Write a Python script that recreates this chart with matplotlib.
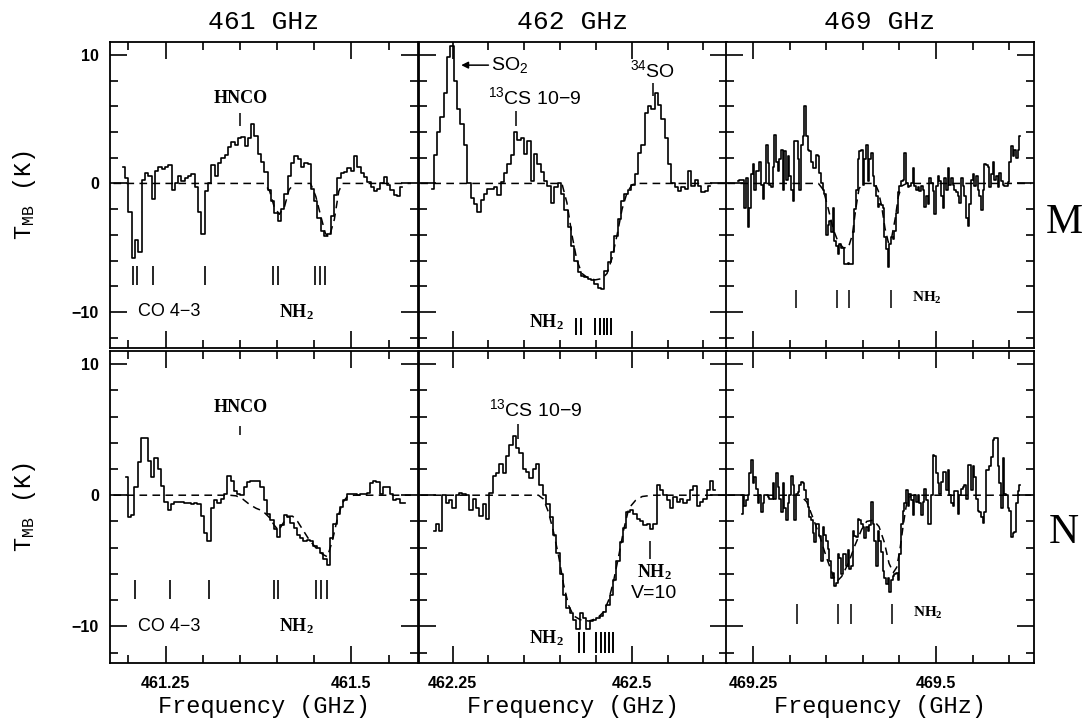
import numpy as np
import matplotlib
matplotlib.use('Agg')
import matplotlib.pyplot as plt
from matplotlib.ticker import MultipleLocator, FuncFormatter

matplotlib.rc('mathtext', default='regular')

# spectra: first channel frequency (GHz), channel width (GHz), T_MB values (K)
m461_f0, m461_df = 461.1934, 0.00446
m461_t = [1.3, 0.4, -2.2, -5.8, -4.4, -5.3, 0.3, 0.8, 0.6, -1.2,
          1.0, 1.3, 1.1, 1.3, 1.4, -0.5, 0.0, 0.6, 0.2, 0.4,
          0.6, 0.7, -0.3, -2.2, -3.9, -0.6, 0.0, 1.4, 0.6, 1.6,
          2.0, 2.2, 2.8, 3.2, 3.0, 3.5, 3.6, 2.9, 3.5, 4.6,
          3.7, 2.3, 1.7, 0.9, -0.5, -1.4, -2.3, -2.9, -2.0, -0.8,
          0.6, 1.6, 2.1, 1.9, 1.3, 1.6, 1.5, -0.4, -1.4, -2.7,
          -3.7, -4.1, -3.9, -2.5, -0.9, 0.4, 0.8, 0.9, 1.2, 1.0,
          2.1, 1.3, 0.8, 0.5, 0.1, -0.3, -0.6, -0.4, 0.0, 0.5,
          -0.1, -0.5, -0.9, -1.0, -0.3]

n461_f0, n461_df = 461.1969, 0.00446
n461_t = [1.4, -1.7, -1.5, 0.6, 2.5, 4.4, 4.4, 2.6, 1.4, 2.8,
          2.0, 0.7, -0.5, -1.1, -0.7, -0.5, -0.5, -0.5, -0.6, -0.6,
          -0.7, -0.6, -0.7, -1.6, -2.9, -3.5, -1.0, -0.4, -0.6, -0.3,
          0.1, 1.5, 1.1, 0.3, 0.1, 0.0, 0.6, 1.0, 1.1, 1.1,
          1.1, 0.6, -0.4, -1.4, -1.9, -2.6, -3.2, -2.3, -1.5, -1.7,
          -2.1, -2.5, -3.0, -3.3, -3.5, -3.4, -3.5, -3.9, -4.0, -4.4,
          -4.9, -5.3, -3.3, -2.2, -1.4, -0.9, -0.4, 0.1, 0.1, 0.1,
          0.0, 0.1, 0.1, 0.2, 0.9, 1.1, 1.0, 0.1, 0.6, 0.6,
          0.1, -0.4, -0.3, -0.6, -0.6]

m462_f0, m462_df = 462.2213, 0.00467
m462_t = [-0.4, 2.2, 4.0, 5.2, 7.0, 9.8, 10.7, 8.0, 5.8, 4.6,
          3.0, 0.0, -1.1, -1.6, -2.2, -1.3, -0.8, -0.4, -0.4, -0.3,
          -0.9, 0.1, 0.8, 1.5, 2.2, 4.0, 3.4, 3.5, 2.3, 3.3,
          0.2, 2.3, 1.5, 0.9, 0.2, -0.2, -1.5, -0.3, 0.0, -0.8,
          -2.1, -3.4, -4.9, -6.0, -6.9, -7.2, -7.3, -7.4, -7.5, -7.8,
          -8.1, -8.2, -6.8, -6.1, -5.3, -4.1, -2.8, -1.4, -0.8, -0.5,
          -0.1, 0.7, 2.4, 3.0, 5.5, 6.0, 5.8, 7.0, 6.1, 5.0,
          3.5, 1.5, 0.0, -0.3, -0.6, -0.3, -0.4, 1.0, -0.2, 0.3,
          -0.2, -0.7, -0.6, -0.2]

n462_f0, n462_df = 462.2241, 0.00467
n462_t = [-2.7, -2.2, -2.7, 0.0, -0.6, -0.4, -1.0, 0.0, 0.2, 0.1,
          0.0, -1.1, -0.3, -1.0, -1.6, -0.7, -1.8, 0.2, 1.5, 1.7,
          2.4, 1.7, 3.0, 3.8, 4.5, 3.6, 3.2, 2.0, 1.8, 1.3,
          2.0, 2.4, 0.8, 0.0, -0.7, -1.7, -3.0, -4.4, -6.0, -7.6,
          -8.6, -9.0, -9.5, -10.2, -9.0, -9.4, -10.2, -9.6, -9.5, -9.4,
          -9.2, -8.9, -8.4, -7.6, -6.5, -5.0, -3.6, -2.5, -1.3, -1.1,
          -1.4, -1.8, -2.0, -2.3, -2.2, -2.6, -2.2, 0.8, 0.4, 0.0,
          -0.4, -1.0, -0.1, -0.5, -0.3, -0.6, -0.4, 0.4, 0.7, -0.8,
          -0.5, -0.3, 0.4, 1.1, 0.4]

m469_f0, m469_df = 469.2300, 0.002277
m469_t = [0.2, 0.3, 0.3, 0.3, -1.9, 0.4, -3.4, -1.9, 0.7, 1.5,
          -0.5, 1.0, 1.0, 1.7, -0.1, -1.2, 0.0, 3.0, 1.6, -0.1,
          -0.3, 1.3, 3.8, 1.7, 1.0, 1.9, 2.6, -0.5, 2.5, 0.3,
          2.1, 0.6, -0.5, -1.4, 3.3, 3.3, 1.9, -0.5, 3.0, 3.7,
          6.0, 3.7, 2.6, 2.5, 1.7, 1.2, 1.2, 2.2, 2.1, 0.8,
          0.0, -0.5, -0.8, -4.0, -3.2, -2.9, -3.8, -1.9, -4.5, -4.9,
          -5.5, -4.7, -5.0, -5.0, -6.3, -6.3, -6.2, -6.3, -6.3, -3.8,
          -2.0, -0.5, 1.9, 2.5, 2.6, -0.1, 1.9, 3.0, 0.2, 1.9,
          2.4, 0.6, -0.2, -1.0, -1.8, -1.6, -1.7, -1.9, -4.2, -5.1,
          -6.5, -4.7, -4.2, -4.3, -3.7, -2.3, -0.7, -0.2, 0.2, 0.3,
          2.4, 0.0, -0.3, -0.2, 0.0, 1.2, -0.2, -0.5, -0.3, -0.6,
          -0.2, -0.5, -1.8, -1.0, -1.6, 0.4, 0.0, -0.6, -2.4, -0.2,
          0.6, 0.2, -1.0, -1.9, 0.4, -0.5, 1.2, -0.1, 0.4, -0.1,
          -0.5, -0.7, -1.0, -1.5, 0.4, -0.2, -1.0, -2.7, -3.3, -1.6,
          0.3, 0.7, -0.2, 0.6, -0.5, -1.0, -2.1, -0.5, 1.5, 1.4,
          1.3, -0.3, 0.7, 1.7, 0.3, 0.6, -0.3, 0.8, 0.2, -0.1,
          -0.2, -0.2, 0.1, 1.7, 2.9, 2.1, 2.6, 2.0, 2.6, 3.7]

n469_f0, n469_df = 469.2345, 0.002277
n469_t = [-1.4, 0.0, -0.8, -0.4, 0.0, 1.7, 2.7, 0.9, 1.4, 0.5,
          -0.6, 0.0, -1.3, -0.6, 0.0, 0.0, -0.1, -0.3, -0.3, 0.9,
          -0.3, 1.7, 0.6, -0.3, -1.3, 0.9, -1.0, -1.9, -0.6, 0.0,
          1.5, 0.8, -1.9, 0.1, 0.25, 0.8, 1.0, 0.9, 0.4, -0.3,
          -0.9, -1.7, -1.9, -2.9, -3.6, -2.2, -2.2, -3.1, -5.0, -2.4,
          -3.0, -3.5, -4.1, -5.0, -6.3, -5.9, -6.9, -6.7, -4.5, -4.8,
          -6.0, -4.5, -4.5, -5.4, -4.2, -5.6, -5.4, -2.7, -3.1, -3.2,
          -1.8, -1.9, -2.2, -2.4, -3.3, -2.4, -2.7, -2.3, -0.5, -2.2,
          -3.5, -5.4, -2.7, -3.5, -4.3, -5.8, -6.3, -6.8, -6.3, -7.4,
          -6.5, -6.2, -6.0, -5.9, -6.5, -4.5, -2.2, -1.2, -0.6, 0.4,
          -0.8, 0.1, -0.4, -1.5, 0.0, -0.5, 0.0, -0.6, -1.5, -0.5,
          0.5, -0.4, -2.2, -2.2, 0.0, 3.1, 3.0, 1.7, 0.9, 0.1,
          1.0, 1.8, 1.8, 0.4, 1.9, 0.0, -0.6, -0.8, 0.3, 0.3,
          -1.4, 0.0, 0.5, 0.6, 0.8, -0.3, 2.3, 2.3, 0.4, 2.2,
          1.4, -0.3, -1.2, -1.3, -1.7, -2.1, -1.3, 1.9, 1.9, 2.2,
          2.9, 4.2, 4.4, 4.4, 2.2, 0.9, -1.0, 2.8, 0.1, 0.0,
          -1.0, -1.2, -3.2, -2.9, -2.8, -0.6, 0.3, 0.8]

# model fits (dashed), knots in GHz and K
m461_mf = [461.18, 461.383, 461.390, 461.396, 461.403, 461.410, 461.416, 461.423,
           461.445, 461.452, 461.459, 461.465, 461.470, 461.477, 461.483, 461.488, 461.58]
m461_mt = [0, 0, -0.6, -1.8, -2.4, -1.8, -0.5, 0,
           0, -1.0, -2.6, -3.9, -4.2, -2.8, -0.6, 0, 0]
n461_mf = [461.18, 461.3361, 461.3450, 461.3539, 461.3628, 461.3718, 461.3807, 461.3896,
           461.3963, 461.4021, 461.4074, 461.4141, 461.4208, 461.4275, 461.4342, 461.4431,
           461.4520, 461.4610, 461.4676, 461.4743, 461.4810, 461.4877, 461.4944, 461.5033, 461.58]
n461_mt = [0, 0, -0.05, -0.3, -0.7, -1.0, -1.2, -1.7,
           -2.3, -2.7, -2.2, -1.6, -1.6, -2.0, -2.6, -3.4,
           -4.0, -4.5, -4.7, -3.5, -1.8, -0.6, -0.1, 0, 0]
m462_mf = [462.205, 462.4025, 462.4095, 462.4165, 462.4235, 462.4305, 462.4398, 462.4492,
           462.4585, 462.4655, 462.4725, 462.4795, 462.4865, 462.4935, 462.5005, 462.5075, 462.63]
m462_mt = [0, 0, -1.5, -4.0, -6.0, -7.0, -7.4, -7.5,
           -7.4, -7.0, -5.8, -4.0, -2.0, -0.7, -0.1, 0, 0]
n462_mf = [462.205, 462.3698, 462.3768, 462.3838, 462.3908, 462.3978, 462.4048, 462.4118,
           462.4188, 462.4282, 462.4398, 462.4515, 462.4608, 462.4678, 462.4748, 462.4819,
           462.4889, 462.4959, 462.5052, 462.5145, 462.5285, 462.63]
n462_mt = [0, 0, -0.3, -1.3, -2.8, -4.6, -6.8, -8.4,
           -9.2, -9.5, -9.6, -9.4, -8.9, -8.0, -6.5, -4.6,
           -2.6, -1.0, -0.4, -0.1, 0, 0]
m469_mf = [469.215, 469.3393, 469.3461, 469.3529, 469.3598, 469.3666, 469.3734, 469.3802,
           469.3857, 469.3903, 469.3948, 469.4007, 469.4167, 469.4212, 469.4258, 469.4303,
           469.4349, 469.4394, 469.4440, 469.4486, 469.4531, 469.4599, 469.63]
m469_mt = [0, 0, -0.5, -2.0, -3.6, -4.6, -5.0, -5.0,
           -4.0, -2.0, -0.4, 0, 0, -0.6, -1.8, -3.5,
           -4.6, -4.2, -2.8, -1.0, -0.2, 0, 0]
n469_mf = [469.215, 469.3142, 469.3233, 469.3324, 469.3415, 469.3506, 469.3598, 469.3643,
           469.3711, 469.3802, 469.3894, 469.3985, 469.4053, 469.4144, 469.4221, 469.4294,
           469.4358, 469.4417, 469.4463, 469.4508, 469.4554, 469.4599, 469.4659, 469.63]
n469_mt = [0, 0, -0.5, -1.8, -3.2, -4.8, -6.2, -6.6,
           -6.2, -5.2, -3.8, -2.6, -2.0, -1.9, -2.4, -3.6,
           -5.2, -5.9, -5.5, -4.1, -2.2, -0.6, 0, 0]

# line markers (GHz)
m461_lines = [461.2058, 461.2112, 461.2335, 461.3026, 461.3950, 461.4008,
              461.4511, 461.4574, 461.4645]
n461_lines = [461.2088, 461.2558, 461.3080, 461.3952, 461.4010,
              461.4524, 461.4591, 461.4666]
m462_lines = [462.4225, 462.4285, 462.4485, 462.4551, 462.4611, 462.4659, 462.4705]
n462_lines = [462.4261, 462.4331, 462.4505, 462.4565, 462.4621, 462.4681, 462.4737]
m469_lines = [469.3083, 469.3643, 469.3811, 469.4381]
n469_lines = [469.3097, 469.3657, 469.3835, 469.4395]

col_titles = ['461 GHz', '462 GHz', '469 GHz']
col_xlim = [(461.1753, 461.5895), (462.2031, 462.6329), (469.2131, 469.6338)]
row_names = ['M', 'N']

serif_b = dict(family='Liberation Serif', weight='bold')
sans = dict(family='Liberation Sans')


def draw_spectrum(ax, f0, df, t, mf, mt):
    '''
        Step plot of the spectrum plus the dashed model
    '''
    f = f0 + df * np.arange(len(t))
    ax.step(f, t, where='mid', color='black', lw=1.2)
    ax.plot(mf, mt, color='black', lw=1.1, ls=(0, (5, 3.5)))


def style_axes(ax, col, row):
    ax.set_xlim(*col_xlim[col])
    ax.set_ylim(-12.8, 11)
    ax.xaxis.set_major_locator(MultipleLocator(0.25))
    ax.xaxis.set_minor_locator(MultipleLocator(0.05))
    ax.yaxis.set_major_locator(MultipleLocator(10))
    ax.yaxis.set_minor_locator(MultipleLocator(2))
    ax.xaxis.set_major_formatter(FuncFormatter(lambda v, p: '%g' % v))
    ax.tick_params(which='both', direction='in', top=True, right=True, width=1.2)
    ax.tick_params(which='major', length=12)
    ax.tick_params(which='minor', length=6)
    ax.tick_params(axis='y', pad=8)
    ax.tick_params(axis='x', pad=9)
    for s in ax.spines.values():
        s.set_linewidth(1.3)
    if row == 0:
        ax.tick_params(labelbottom=False)
    if col > 0:
        ax.tick_params(labelleft=False)
    for lab in ax.get_xticklabels() + ax.get_yticklabels():
        lab.set_fontfamily('Liberation Sans')
        lab.set_fontweight('bold')
        lab.set_fontsize(11.5)


fig = plt.figure(figsize=(10.86, 7.24), dpi=100)

lefts = [110 / 1086, 419 / 1086, 726 / 1086]
width = 308 / 1086
rows_pos = [(1 - 348 / 724, 306 / 724), (1 - 663 / 724, 312 / 724)]

axes = {}
for r in range(2):
    for c in range(3):
        axes[(r, c)] = fig.add_axes([lefts[c], rows_pos[r][0], width, rows_pos[r][1]])

# ---- row M
ax = axes[(0, 0)]
draw_spectrum(ax, m461_f0, m461_df, m461_t, m461_mf, m461_mt)
ax.vlines(m461_lines, -7.9, -6.4, color='black', lw=1.2)
ax.vlines([461.3504], 4.5, 5.5, color='black', lw=1.1)
ax.text(461.3504, 6.6, 'HNCO', ha='center', va='center', fontsize=13, **serif_b)
ax.text(461.213, -10.0, 'CO 4\u22123', ha='left', va='center', fontsize=13, **sans)
ax.text(461.402, -10.0, 'NH$_2$', ha='left', va='center', fontsize=13, **serif_b)

ax = axes[(0, 1)]
draw_spectrum(ax, m462_f0, m462_df, m462_t, m462_mf, m462_mt)
ax.vlines(m462_lines, -11.8, -10.5, color='black', lw=1.4)
ax.text(462.405, -10.8, 'NH$_2$', ha='right', va='center', fontsize=13, **serif_b)
ax.annotate('', xy=(462.262, 9.2), xytext=(462.300, 9.2),
            arrowprops=dict(arrowstyle='-|>', color='black', lw=1.1,
                            mutation_scale=10, shrinkA=0, shrinkB=0))
ax.text(462.304, 9.2, 'SO$_2$', ha='left', va='center', fontsize=14, **sans)
ax.vlines([462.3389], 4.5, 5.6, color='black', lw=1.1)
ax.text(462.300, 6.7, '$^{13}$CS 10\u22129', ha='left', va='center', fontsize=14, **sans)
ax.vlines([462.530], 6.8, 7.8, color='black', lw=1.1)
ax.text(462.5293, 8.8, '$^{34}$SO', ha='center', va='center', fontsize=14, **sans)

ax = axes[(0, 2)]
draw_spectrum(ax, m469_f0, m469_df, m469_t, m469_mf, m469_mt)
ax.vlines(m469_lines, -9.7, -8.3, color='black', lw=1.1)
ax.text(469.4672, -8.9, 'NH$_2$', ha='left', va='center', fontsize=11, **serif_b)

# ---- row N
ax = axes[(1, 0)]
draw_spectrum(ax, n461_f0, n461_df, n461_t, n461_mf, n461_mt)
ax.vlines(n461_lines, -7.9, -6.5, color='black', lw=1.2)
ax.vlines([461.3504], 4.6, 5.3, color='black', lw=1.1)
ax.text(461.3504, 6.7, 'HNCO', ha='center', va='center', fontsize=13, **serif_b)
ax.text(461.213, -10.0, 'CO 4\u22123', ha='left', va='center', fontsize=13, **sans)
ax.text(461.402, -10.0, 'NH$_2$', ha='left', va='center', fontsize=13, **serif_b)

ax = axes[(1, 1)]
draw_spectrum(ax, n462_f0, n462_df, n462_t, n462_mf, n462_mt)
ax.vlines(n462_lines, -12.0, -10.4, color='black', lw=1.4)
ax.text(462.405, -10.9, 'NH$_2$', ha='right', va='center', fontsize=13, **serif_b)
ax.vlines([462.3407], 4.3, 5.4, color='black', lw=1.1)
ax.text(462.301, 6.6, '$^{13}$CS 10\u22129', ha='left', va='center', fontsize=14, **sans)
ax.vlines([462.5255], -4.9, -3.5, color='black', lw=1.1)
ax.text(462.531, -5.9, 'NH$_2$', ha='center', va='center', fontsize=13, **serif_b)
ax.text(462.531, -7.5, 'V=10', ha='center', va='center', fontsize=14, **sans)

ax = axes[(1, 2)]
draw_spectrum(ax, n469_f0, n469_df, n469_t, n469_mf, n469_mt)
ax.vlines(n469_lines, -9.8, -8.3, color='black', lw=1.1)
ax.text(469.468, -9.0, 'NH$_2$', ha='left', va='center', fontsize=11, **serif_b)

for (r, c), ax in axes.items():
    style_axes(ax, c, r)

# titles, axis labels and row names
for c in range(3):
    xc = lefts[c] + width / 2
    fig.text(xc, 1 - 22 / 724, col_titles[c], ha='center', va='center',
             fontsize=19, family='Liberation Mono')
    fig.text(xc, 1 - 706 / 724, 'Frequency (GHz)', ha='center', va='center',
             fontsize=17, family='Liberation Mono')

for r, yc in enumerate([1 - 195 / 724, 1 - 507 / 724]):
    fig.text(24 / 1086, yc, 'T$_{MB}$ (K)', ha='center', va='center', rotation=90,
             fontsize=17, family='Liberation Mono')
    fig.text(1064 / 1086, [1 - 223 / 724, 1 - 533 / 724][r], row_names[r],
             ha='center', va='center', fontsize=30, family='Liberation Serif')

plt.savefig('out.png', dpi=100)
